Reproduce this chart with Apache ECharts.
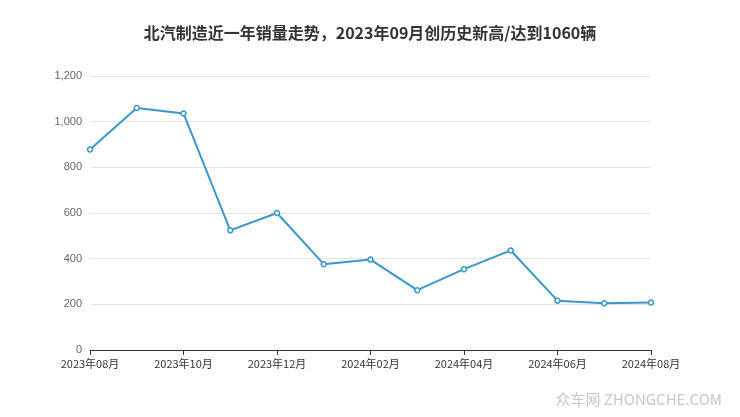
<!DOCTYPE html>
<html><head><meta charset="utf-8">
<script src="https://cdn.jsdelivr.net/npm/echarts@6/dist/echarts.min.js"></script>
<style>html,body{margin:0;padding:0;background:#fff}#c{width:740px;height:417px}</style>
</head><body><div id="c"></div>
<script>
const categories = ['2023年08月','2023年09月','2023年10月','2023年11月','2023年12月','2024年01月','2024年02月','2024年03月','2024年04月','2024年05月','2024年06月','2024年07月','2024年08月'];
const sales = [878, 1060, 1036, 524, 600, 376, 396, 262, 354, 436, 216, 205, 208];
const chart = echarts.init(document.getElementById('c'));
chart.setOption({
  animation:false,
  title:{text:'北汽制造近一年销量走势，2023年09月创历史新高/达到1060辆',left:'center',top:20,
    textStyle:{fontSize:16,fontWeight:'bold',color:'#333',fontFamily:'Noto Sans CJK SC'}},
  grid:{left:90,right:89,top:76,bottom:67},
  xAxis:{type:'category',data:categories,boundaryGap:false,
    axisLine:{lineStyle:{color:'#333'}},
    axisTick:{interval:1,lineStyle:{color:'#333'}},
    axisLabel:{interval:1,color:'#333',fontSize:11,fontFamily:'Noto Sans CJK SC'}},
  yAxis:{type:'value',min:0,max:1200,interval:200,
    axisLabel:{color:'#666',fontSize:11,formatter:v=>v.toLocaleString('en-US')},
    splitLine:{lineStyle:{color:'#e6e6e6'}}},
  series:[{type:'line',data:sales,symbol:'circle',symbolSize:5,
    itemStyle:{color:'#fff',borderColor:'#3a97c9',borderWidth:1.5},
    lineStyle:{color:'#3a97c9',width:2}}],
  graphic:[{type:'text',right:18,bottom:10,style:{text:'众车网 ZHONGCHE.COM',fill:'#c8c8c8',fontSize:15,fontFamily:'Noto Sans CJK SC'}}]
});
</script></body></html>
